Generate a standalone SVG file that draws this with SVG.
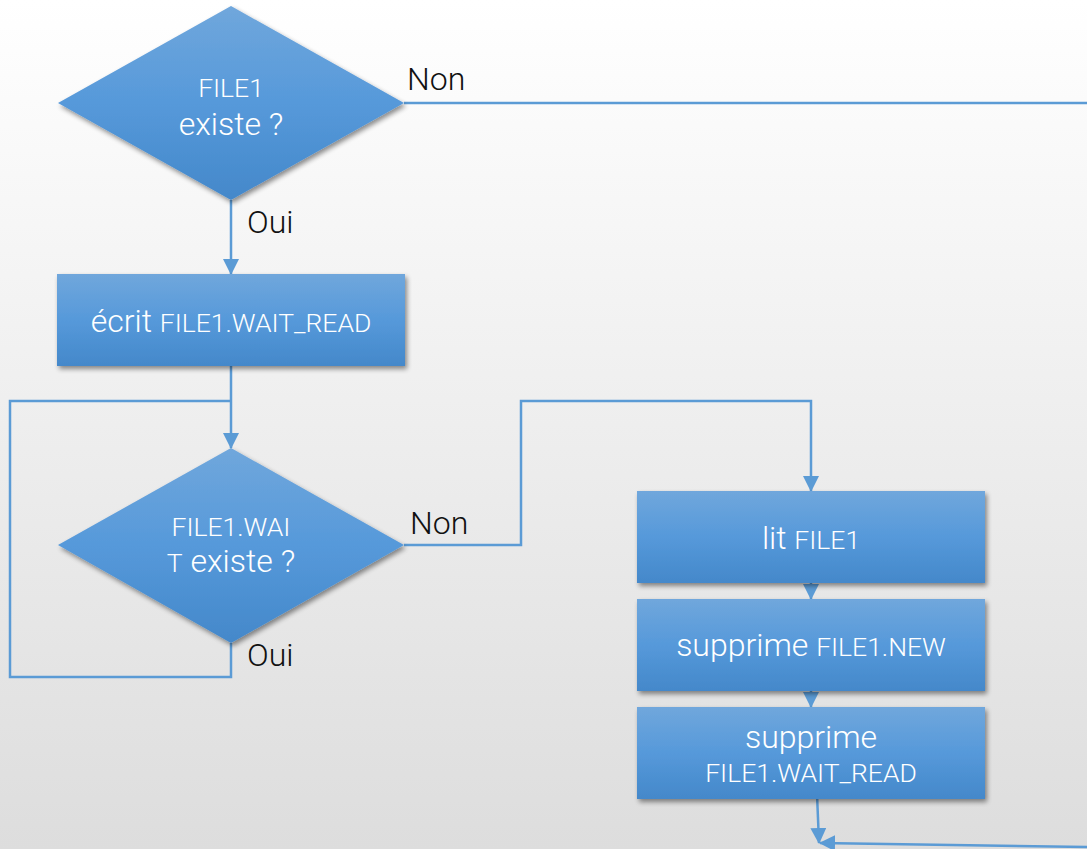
<svg xmlns="http://www.w3.org/2000/svg" width="1087" height="849" viewBox="0 0 1087 849">
  <defs>
    <linearGradient id="bg" x1="0" y1="0" x2="0" y2="1">
      <stop offset="0" stop-color="#ffffff"/>
      <stop offset="1" stop-color="#dddddd"/>
    </linearGradient>
    <linearGradient id="fill" x1="0" y1="0" x2="0" y2="1">
      <stop offset="0" stop-color="#70a7dc"/>
      <stop offset="0.5" stop-color="#5699da"/>
      <stop offset="1" stop-color="#4488ca"/>
    </linearGradient>
    <filter id="shadow" x="-10%" y="-10%" width="125%" height="130%">
      <feGaussianBlur in="SourceAlpha" stdDeviation="2.5"/>
      <feOffset dx="2" dy="3" result="b"/>
      <feComponentTransfer><feFuncA type="linear" slope="0.45"/></feComponentTransfer>
      <feMerge><feMergeNode/><feMergeNode in="SourceGraphic"/></feMerge>
    </filter>
    <marker id="arrow" markerUnits="userSpaceOnUse" markerWidth="16" markerHeight="16" viewBox="0 0 16 16" refX="15" refY="8" orient="auto">
      <path d="M0,0 L16,8 L0,16 Z" fill="#5b9bd5"/>
    </marker>
    <style>
      .shape { fill: url(#fill); filter: url(#shadow); }
      .wire { fill: none; stroke: #5b9bd5; stroke-width: 2.5; }
      .in { fill: #ffffff; font-family: Roboto, "Liberation Sans", sans-serif; font-weight: 300; text-anchor: middle; }
      .big { font-size: 32px; }
      .small { font-size: 26.5px; }
      .lbl { fill: #111111; font-family: Roboto, "Liberation Sans", sans-serif; font-weight: 300; font-size: 32px; }
    </style>
  </defs>

  <rect width="1087" height="849" fill="url(#bg)"/>

  <g id="connectors">
    <path class="wire" d="M404,103 H1087" stroke-width="2"/>
    <path class="wire" d="M231,200 V274" marker-end="url(#arrow)"/>
    <path class="wire" d="M231,366 V448" marker-end="url(#arrow)"/>
    <path class="wire" d="M231,643 V677 H10 V401 H231"/>
    <path class="wire" d="M404,545 H521 V401 H811 V491" marker-end="url(#arrow)"/>
    <path class="wire" d="M811,581 V599" marker-end="url(#arrow)"/>
    <path class="wire" d="M811,689 V707" marker-end="url(#arrow)"/>
    <path class="wire" d="M817,794 L819,843" marker-end="url(#arrow)"/>
    <path class="wire" d="M1087,847 L820,843" marker-end="url(#arrow)"/>
  </g>

  <g id="decision-file1">
    <polygon class="shape" points="231,6 404,103 231,200 58,103"/>
    <text class="in small" x="231" y="97">FILE1</text>
    <text class="in big" x="231" y="135">existe ?</text>
  </g>
  <text class="lbl" x="407" y="90">Non</text>
  <text class="lbl" x="247" y="233">Oui</text>

  <g id="write-wait-read">
    <rect class="shape" x="57" y="274" width="348" height="92"/>
    <text class="in" x="231" y="332"><tspan class="big">écrit </tspan><tspan class="small">FILE1.WAIT_READ</tspan></text>
  </g>

  <g id="decision-wait">
    <polygon class="shape" points="231,448 404,545 231,643 58,545"/>
    <text class="in small" x="231" y="536">FILE1.WAI</text>
    <text class="in" x="231" y="572"><tspan class="small">T</tspan><tspan class="big"> existe ?</tspan></text>
  </g>
  <text class="lbl" x="410" y="534">Non</text>
  <text class="lbl" x="247" y="666">Oui</text>

  <g id="read-file1">
    <rect class="shape" x="637" y="491" width="348" height="92"/>
    <text class="in" x="811" y="549"><tspan class="big">lit </tspan><tspan class="small">FILE1</tspan></text>
  </g>

  <g id="delete-new">
    <rect class="shape" x="637" y="599" width="348" height="92"/>
    <text class="in" x="811" y="656"><tspan class="big">supprime </tspan><tspan class="small">FILE1.NEW</tspan></text>
  </g>

  <g id="delete-wait-read">
    <rect class="shape" x="637" y="707" width="348" height="92"/>
    <text class="in big" x="811" y="748">supprime</text>
    <text class="in small" x="811" y="782">FILE1.WAIT_READ</text>
  </g>
</svg>
